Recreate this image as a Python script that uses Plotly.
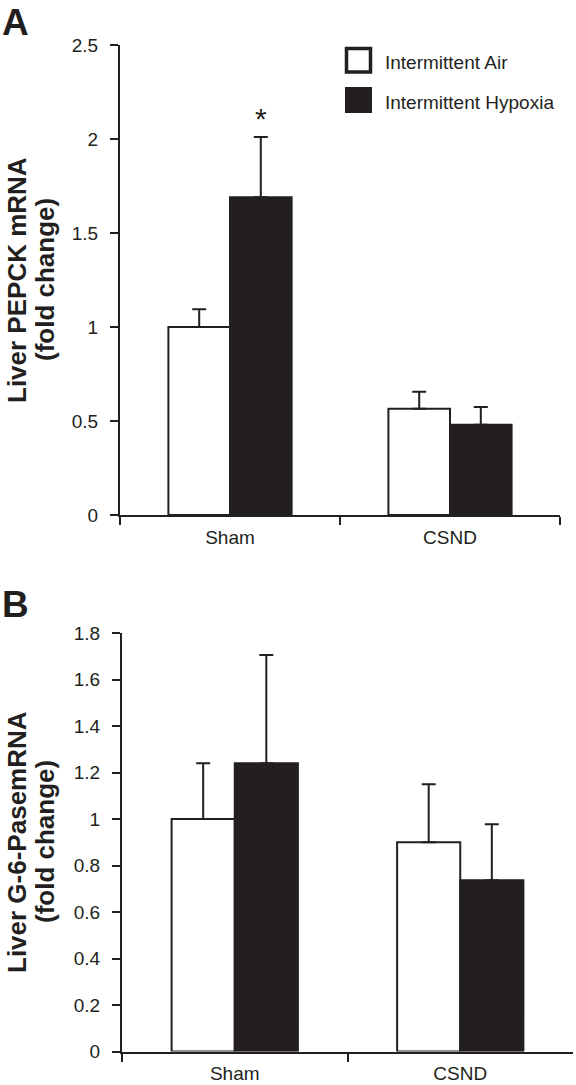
import plotly.graph_objects as go

categories = ["Sham", "CSND"]
series_names = ["Intermittent Air", "Intermittent Hypoxia"]

pepck_air = [1.0, 0.565]
pepck_air_err = [0.095, 0.09]
pepck_hyp = [1.69, 0.48]
pepck_hyp_err = [0.32, 0.095]

g6p_air = [1.0, 0.90]
g6p_air_err = [0.24, 0.25]
g6p_hyp = [1.24, 0.737]
g6p_hyp_err = [0.465, 0.24]

ticks_a = [0, 0.5, 1, 1.5, 2, 2.5]
ticks_a_text = ["0", "0.5", "1", "1.5", "2", "2.5"]
ticks_b = [0, 0.2, 0.4, 0.6, 0.8, 1.0, 1.2, 1.4, 1.6, 1.8]
ticks_b_text = ["0", "0.2", "0.4", "0.6", "0.8", "1", "1.2", "1.4", "1.6", "1.8"]

ytitle_a = ["Liver PEPCK mRNA", "(fold change)"]
ytitle_b = ["Liver G-6-PasemRNA", "(fold change)"]

INK = "#231f20"
FONT = "Liberation Sans, Arial, sans-serif"
W, H = 576, 1085

fig = go.Figure()


def add_bars(values, errs, color, xa, ya, name):
    fig.add_trace(go.Bar(
        x=categories, y=values, name=name, xaxis=xa, yaxis=ya,
        marker=dict(color=color, line=dict(color=INK, width=2)),
        error_y=dict(type="data", array=errs, arrayminus=[0] * len(errs),
                     symmetric=False, color=INK, thickness=2, width=7),
        showlegend=False,
    ))


add_bars(pepck_air, pepck_air_err, "white", "x", "y", series_names[0])
add_bars(pepck_hyp, pepck_hyp_err, INK, "x", "y", series_names[1])
add_bars(g6p_air, g6p_air_err, "white", "x2", "y2", series_names[0])
add_bars(g6p_hyp, g6p_hyp_err, INK, "x2", "y2", series_names[1])


def px_x(p):
    return p / W


def px_y(p):
    return 1 - p / H


xcommon = dict(type="category", range=[-0.5, 1.5], tickson="boundaries",
               ticks="outside", ticklen=8, tickwidth=2, tickcolor=INK,
               showline=True, linecolor=INK, linewidth=2, showgrid=False,
               zeroline=False, tickfont=dict(family=FONT, size=19, color=INK),
               ticklabelstandoff=4, automargin=False)
ycommon = dict(ticks="outside", ticklen=8, tickwidth=2, tickcolor=INK,
               showline=True, linecolor=INK, linewidth=2, showgrid=False,
               zeroline=False, tickfont=dict(family=FONT, size=19, color=INK),
               ticklabelstandoff=8, automargin=False)

fig.update_layout(
    width=W, height=H, autosize=False,
    margin=dict(l=0, r=0, t=0, b=0, pad=0),
    paper_bgcolor="white", plot_bgcolor="white",
    barmode="group", bargap=0.44, bargroupgap=0,
    xaxis=dict(domain=[px_x(120), px_x(560)], anchor="y", **xcommon),
    yaxis=dict(domain=[px_y(515), px_y(45)], anchor="x", range=[0, 2.5],
               tickvals=ticks_a, ticktext=ticks_a_text, **ycommon),
    xaxis2=dict(domain=[px_x(122), px_x(573)], anchor="y2", **xcommon),
    yaxis2=dict(domain=[px_y(1051.5), px_y(633)], anchor="x2", range=[0, 1.8],
                tickvals=ticks_b, ticktext=ticks_b_text, **ycommon),
    font=dict(family=FONT, color=INK),
)

ann = []
# panel letters
ann.append(dict(text="<b>A</b>", x=px_x(0), y=px_y(0), xref="paper", yref="paper",
                xanchor="left", yanchor="top", showarrow=False,
                font=dict(family=FONT, size=37, color=INK)))
ann.append(dict(text="<b>B</b>", x=px_x(0), y=px_y(604), xref="paper", yref="paper",
                xanchor="left", yanchor="middle", showarrow=False,
                font=dict(family=FONT, size=37, color=INK)))
# y titles (one annotation per line)
for lines, yc in ((ytitle_a, 280), (ytitle_b, 842)):
    for txt, xc in zip(lines, (17, 45)):
        ann.append(dict(text="<b>" + txt + "</b>", textangle=-90,
                        x=px_x(xc), y=px_y(yc), xref="paper", yref="paper",
                        xanchor="center", yanchor="middle", showarrow=False,
                        font=dict(family=FONT, size=26, color=INK)))
# significance asterisk
ann.append(dict(text="*", x=0.14, y=pepck_hyp[0] + pepck_hyp_err[0], xref="x", yref="y",
                xanchor="center", yanchor="bottom", yshift=0, showarrow=False,
                font=dict(family=FONT, size=30, color=INK)))
# legend text
ann.append(dict(text=series_names[0], x=px_x(383), y=px_y(62), xref="paper", yref="paper",
                xanchor="left", yanchor="middle", showarrow=False,
                font=dict(family=FONT, size=19, color=INK)))
ann.append(dict(text=series_names[1], x=px_x(383), y=px_y(103), xref="paper", yref="paper",
                xanchor="left", yanchor="middle", showarrow=False,
                font=dict(family=FONT, size=19, color=INK)))
fig.update_layout(annotations=ann)

# legend swatches
shapes = [
    dict(type="rect", xref="paper", yref="paper", x0=px_x(346.5), x1=px_x(370.5),
         y0=px_y(72), y1=px_y(48.5), fillcolor="white", line=dict(color=INK, width=3.5)),
    dict(type="rect", xref="paper", yref="paper", x0=px_x(345), x1=px_x(372),
         y0=px_y(113), y1=px_y(87), fillcolor=INK, line=dict(color=INK, width=0)),
]
fig.update_layout(shapes=shapes)

fig.write_html("out.html", config={"displayModeBar": False},
               post_script="document.body.style.margin='0';")
